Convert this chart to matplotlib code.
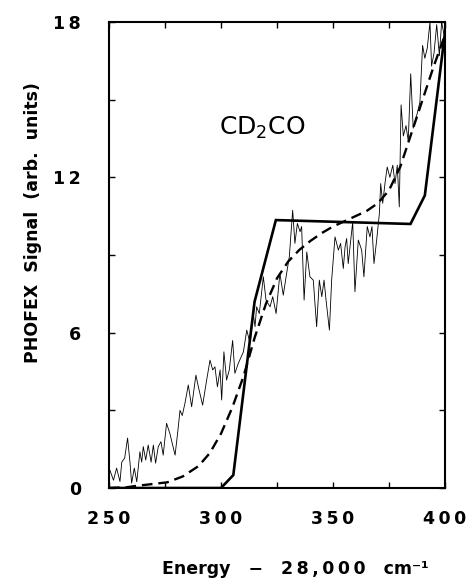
import matplotlib
matplotlib.use("Agg")
import matplotlib.pyplot as plt
from matplotlib.ticker import FuncFormatter

# ---------------------------------------------------------------------------
# Donnees
# ---------------------------------------------------------------------------
# spectre PHOFEX mesure (trace fine bruitee)
signal_x = [
    250.0, 250.4, 252.0, 253.4, 254.9, 255.7, 257.0, 258.3, 259.4, 260.1,
    261.3, 262.4, 263.8, 264.6, 265.3, 266.4, 267.5, 268.8, 269.8, 270.8,
    272.0, 273.2, 274.2, 275.7, 277.2, 279.5, 280.7, 281.7, 282.7, 283.9,
    285.4, 286.9, 288.8, 289.9, 291.8, 293.6, 295.1, 296.3, 297.3, 298.4,
    299.6, 300.3, 301.3, 302.5, 303.7, 305.2, 306.2, 307.7, 310.0, 311.5,
    313.0, 314.4, 315.2, 315.9, 317.1, 318.9, 320.1, 321.9, 323.1, 324.6,
    326.3, 327.8, 329.3, 330.5, 332.0, 333.0, 334.1, 335.3, 336.0, 337.1,
    338.3, 339.7, 341.2, 342.7, 343.9, 345.0, 346.0, 346.9, 348.4, 349.4,
    350.9, 352.4, 353.4, 354.6, 355.4, 356.1, 356.8, 358.8, 359.8, 361.3,
    362.8, 363.8, 365.3, 366.5, 367.4, 368.3, 369.5, 370.7, 371.3, 372.2,
    373.2, 374.2, 375.4, 376.7, 377.7, 378.7, 379.6, 380.4, 381.4, 382.6,
    383.6, 384.7, 385.8, 387.4, 388.8, 390.0, 391.0, 392.1, 393.3, 394.0,
    395.1, 396.3, 397.5, 398.5, 399.6, 400.0,
]
signal_y = [
    0.50, 0.69, 0.30, 0.77, 0.25, 1.00, 1.16, 1.93, 0.96, 0.19,
    0.77, 0.24, 1.40, 1.00, 1.60, 1.08, 1.66, 1.00, 1.66, 0.96,
    1.60, 1.79, 1.27, 2.50, 2.10, 1.27, 2.17, 3.00, 2.80, 3.27,
    3.98, 3.14, 4.36, 3.91, 3.20, 4.17, 4.94, 4.56, 4.68, 3.91,
    4.56, 3.40, 5.26, 4.17, 4.56, 5.70, 4.43, 4.81, 5.26, 6.10,
    5.59, 6.74, 6.23, 7.00, 6.74, 8.16, 7.26, 7.00, 7.39, 6.74,
    8.29, 7.45, 8.29, 8.93, 10.73, 9.45, 10.22, 9.90, 10.10, 7.26,
    9.12, 8.16, 8.03, 6.23, 8.03, 7.39, 8.03, 7.26, 6.10, 8.03,
    9.70, 9.19, 9.45, 8.48, 9.32, 9.64, 8.67, 10.28, 7.58, 9.58,
    9.19, 8.16, 10.10, 9.70, 10.10, 8.67, 9.58, 10.60, 11.76, 11.00,
    11.76, 12.40, 12.00, 12.47, 11.76, 12.47, 10.86, 14.80, 13.60, 14.00,
    13.40, 16.00, 13.90, 14.40, 14.90, 17.10, 16.60, 17.00, 18.00, 16.30,
    16.80, 17.90, 16.70, 18.00, 17.50, 17.80,
]

# modele en marches (trait epais)
step_x = [250, 300, 305.5, 315, 324.5, 384.6, 391, 400]
step_y = [0, 0, 0.5, 7.2, 10.35, 10.2, 11.3, 17.6]

# modele lisse (tirets)
smooth_x = [250, 258, 262, 268, 276, 283, 290, 295, 300, 305, 310, 315,
            320, 325, 330, 335, 340, 345, 350, 355, 360, 365, 370, 375,
            380, 385, 390, 395, 400]
smooth_y = [0.0, 0.03, 0.08, 0.14, 0.22, 0.45, 0.85, 1.35, 2.1, 3.1, 4.3,
            5.8, 7.1, 8.1, 8.75, 9.2, 9.55, 9.85, 10.1, 10.3, 10.5, 10.7,
            11.0, 11.5, 12.4, 13.7, 15.0, 16.3, 17.5]

x_ticks = [250, 300, 350, 400]
y_ticks = [0, 6, 12, 18]

FONT = "DejaVu Sans"
THIN = "\u2009"


def spaced(txt):
    """Espacement large entre caracteres, comme sur l'original."""
    return THIN.join(txt)


# ---------------------------------------------------------------------------
# Figure
# ---------------------------------------------------------------------------
plt.rcParams["font.family"] = FONT

fig = plt.figure(figsize=(4.69, 5.86), dpi=100)
ax = fig.add_axes([0.2324, 0.1672, 0.7164, 0.7952])

ax.plot(signal_x, signal_y, color="black", lw=0.6)
ax.plot(step_x, step_y, color="black", lw=1.9, solid_joinstyle="miter")
ax.plot(smooth_x, smooth_y, color="black", lw=1.7, ls=(0, (4.5, 2.5)))

ax.set_xlim(250, 400)
ax.set_ylim(0, 18)

ax.set_xticks(x_ticks)
ax.set_xticks([275, 325, 375], minor=True)
ax.set_yticks(y_ticks)
ax.set_yticks([3, 9, 15], minor=True)
fmt = FuncFormatter(lambda v, pos: spaced(f"{v:.0f}"))
ax.xaxis.set_major_formatter(fmt)
ax.yaxis.set_major_formatter(fmt)

ax.tick_params(which="both", direction="in", top=True, right=True,
               width=1.0, length=4.5)
ax.tick_params(axis="x", which="major", pad=16, labelsize=12.5)
ax.tick_params(axis="y", which="major", pad=20, labelsize=12.5)
for lab in ax.get_xticklabels() + ax.get_yticklabels():
    lab.set_fontweight("bold")

for sp in ax.spines.values():
    sp.set_linewidth(1.5)

ax.set_xlabel("Energy   \u2212   " + spaced("28,000") + "   cm\u207b\u00b9",
              fontsize=12.5, fontweight="bold")
ax.xaxis.set_label_coords(0.555, -0.155)
ax.set_ylabel("PHOFEX  Signal  (arb.  units)", fontsize=12.5,
              fontweight="bold")
ax.yaxis.set_label_coords(-0.2, 0.57)

ax.text(318.3, 13.9, "CD$_2$CO", fontsize=18, ha="center", va="center")

fig.savefig("out.png", dpi=100)
